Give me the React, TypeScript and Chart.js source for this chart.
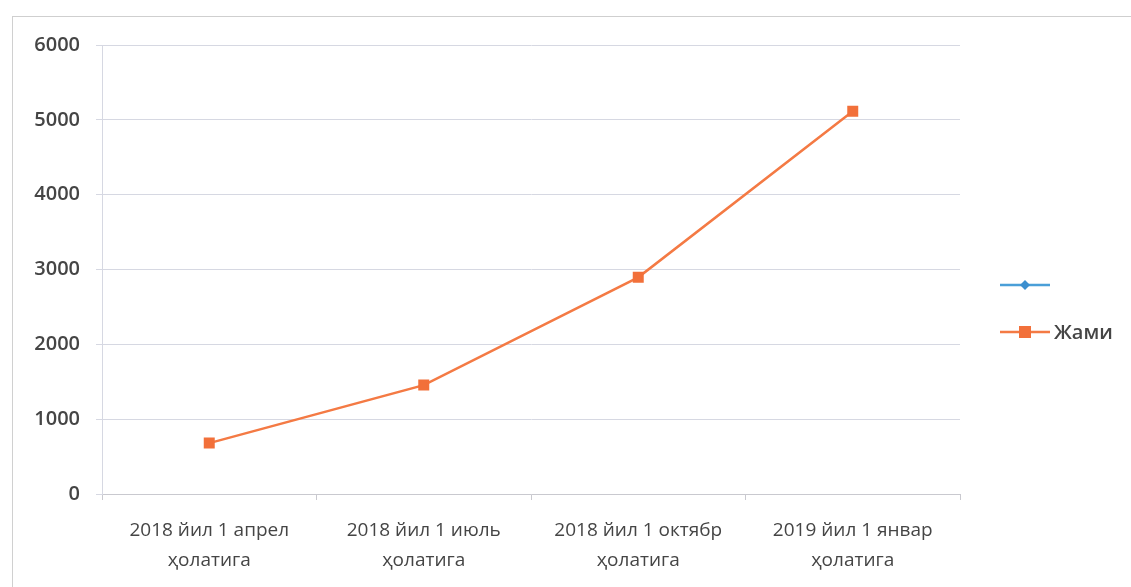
import React, { useEffect, useRef } from "react";
import { Chart, registerables } from "chart.js";

Chart.register(...registerables);

const categories: string[][] = [
  ["2018 йил 1 апрел", "ҳолатига"],
  ["2018 йил 1 июль", "ҳолатига"],
  ["2018 йил 1 октябр", "ҳолатига"],
  ["2019 йил 1 январ", "ҳолатига"],
];
const emptySeries: (number | null)[] = [null, null, null, null];
const jamiSeries: number[] = [680, 1455, 2895, 5115];
const yTicks = { min: 0, max: 6000, step: 1000 };

const legendPlugin = {
  id: "sideLegend",
  afterDraw(chart: any) {
    const ctx = chart.ctx;
    const items = chart.data.datasets;
    const x0 = 1000;
    const ys = [285, 332];
    ctx.save();
    items.forEach((ds: any, i: number) => {
      const y = ys[i];
      ctx.strokeStyle = ds.borderColor;
      ctx.lineWidth = 2.5;
      ctx.beginPath();
      ctx.moveTo(x0, y);
      ctx.lineTo(x0 + 50, y);
      ctx.stroke();
      ctx.fillStyle = ds.pointBackgroundColor;
      if (ds.pointStyle === "rectRot") {
        ctx.beginPath();
        ctx.moveTo(x0 + 25, y - 5);
        ctx.lineTo(x0 + 30, y);
        ctx.lineTo(x0 + 25, y + 5);
        ctx.lineTo(x0 + 20, y);
        ctx.closePath();
        ctx.fill();
      } else {
        ctx.fillRect(x0 + 19, y - 6, 12, 12);
      }
      if (ds.label) {
        ctx.fillStyle = "#454545";
        ctx.font = "600 20px 'Open Sans', sans-serif";
        ctx.textBaseline = "middle";
        ctx.textAlign = "left";
        ctx.fillText(ds.label, x0 + 54, y + 1);
      }
    });
    ctx.restore();
  },
};

export default function App() {
  const ref = useRef<HTMLCanvasElement | null>(null);
  useEffect(() => {
    if (!ref.current) return;
    const chart = new Chart(ref.current, {
      type: "line",
      data: {
        labels: categories,
        datasets: [
          {
            label: "",
            data: emptySeries,
            borderColor: "#4a9fd8",
            pointBackgroundColor: "#3b8fcf",
            pointStyle: "rectRot",
          } as any,
          {
            label: "Жами",
            data: jamiSeries,
            borderColor: "#f47a44",
            backgroundColor: "#f47a44",
            pointBackgroundColor: "#f2703a",
            pointBorderColor: "#f2703a",
            pointStyle: "rect",
            pointRadius: 6,
            borderWidth: 2.5,
            tension: 0,
          } as any,
        ],
      },
      options: {
        animation: false,
        responsive: false,
        maintainAspectRatio: false,
        layout: { padding: { top: 45, right: 171, bottom: 0, left: 0 } },
        plugins: { legend: { display: false }, tooltip: { enabled: false } },
        scales: {
          x: {
            offset: true,
            grid: {
              display: true,
              drawOnChartArea: false,
              drawTicks: true,
              tickLength: 6,
              offset: true,
              color: "#c9c9cf",
            },
            border: { display: true, color: "#c9c9cf", width: 1 },
            ticks: {
              color: "#454545",
              font: { family: "'Open Sans', sans-serif", size: 19, lineHeight: 1.55 },
              padding: 16,
              maxRotation: 0,
              autoSkip: false,
            },
            afterFit: (s: any) => {
              s.height = 93;
            },
          },
          y: {
            min: yTicks.min,
            max: yTicks.max,
            ticks: {
              stepSize: yTicks.step,
              color: "#454545",
              font: { family: "'Open Sans', sans-serif", size: 20, weight: 600 },
              padding: 16,
              callback: (v: any) => String(v),
            },
            grid: { color: "#d6d8e2", tickLength: 6, lineWidth: 1 },
            border: { display: true, color: "#d6d8e2" },
            afterFit: (s: any) => {
              s.width = 102;
            },
          },
        },
      },
      plugins: [legendPlugin],
    });
    return () => chart.destroy();
  }, []);
  return (
    <div style={{ position: "fixed", left: 0, top: 0, width: 1131, height: 587, background: "#fff" }}>
      <div
        style={{
          position: "absolute",
          left: 12,
          top: 16,
          width: 1130,
          height: 580,
          borderLeft: "1.5px solid #d0d0d0",
          borderTop: "1.5px solid #cfcfcf",
        }}
      />
      <canvas ref={ref} width={1131} height={587} style={{ position: "absolute", left: 0, top: 0 }} />
    </div>
  );
}
